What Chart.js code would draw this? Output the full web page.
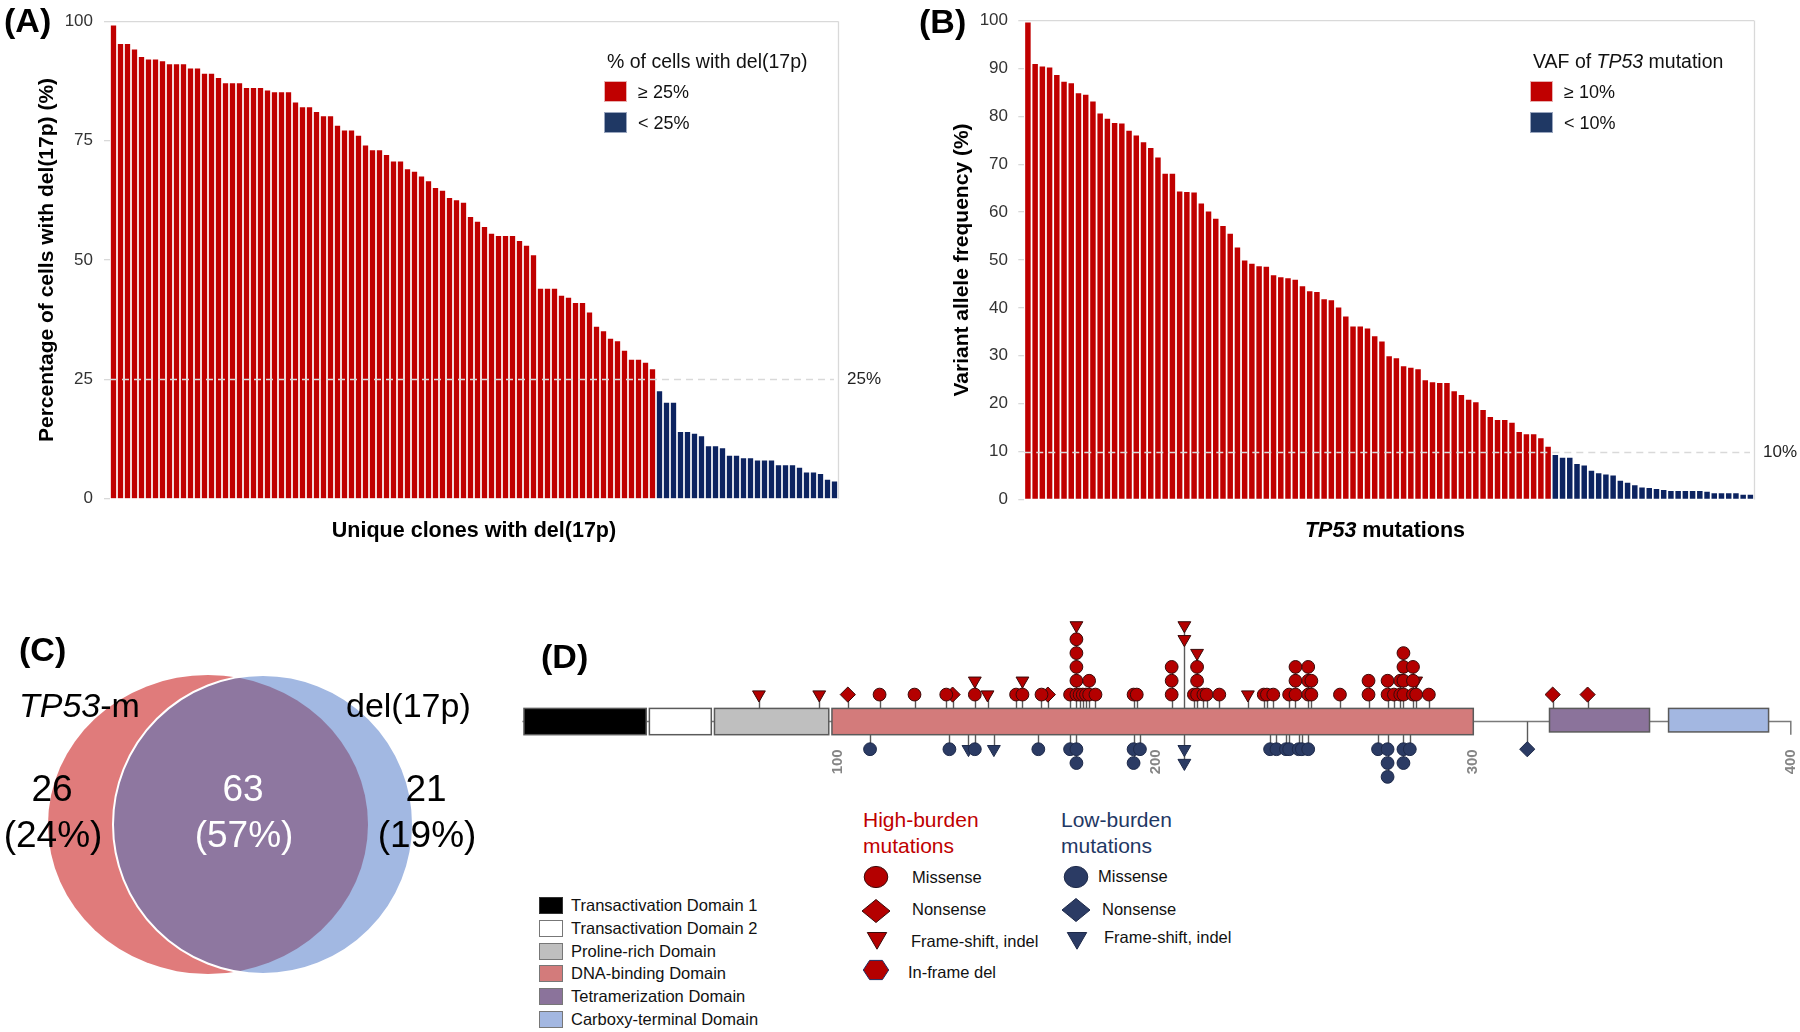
<!DOCTYPE html>
<html>
<head>
<meta charset="utf-8">
<script src="https://cdn.jsdelivr.net/npm/chart.js@4.4.1/dist/chart.umd.min.js"></script>
<style>
  body { margin: 0; background: #fff; }
  #page { position: relative; width: 1800px; height: 1032px; overflow: hidden;
          font-family: "Liberation Sans", Arial, sans-serif; color: #111; }
  #page canvas { position: absolute; }
  .t { position: absolute; line-height: 1; white-space: nowrap; transform: translateY(-50%); }
  .t.c { transform: translate(-50%, -50%); text-align: center; }
  .sw { position: absolute; box-sizing: border-box; }
</style>
</head>
<body>
<div id="page">
  <canvas id="chartA" width="900" height="520" style="left:0;top:0"></canvas>
  <canvas id="chartB" width="900" height="520" style="left:900px;top:0"></canvas>
  <canvas id="chartC" width="460" height="380" style="left:0;top:620px"></canvas>
  <canvas id="chartD" width="1314" height="200" style="left:500px;top:600px"></canvas>
</div>
<script>
// ---- data: panel A, % of cells with del(17p) per unique clone
const clonePct = [
  99.1, 95.2, 95.2, 94.1, 92.5, 92.0, 92.0, 91.6, 91.0, 91.0,
  91.0, 90.1, 90.1, 89.0, 89.0, 88.1, 87.0, 87.0, 87.0, 86.0,
  86.0, 86.0, 85.5, 85.1, 85.1, 85.1, 83.0, 82.0, 82.0, 81.0,
  80.1, 80.1, 78.1, 77.1, 77.1, 76.0, 74.0, 73.0, 73.0, 72.0,
  70.6, 70.6, 69.0, 68.5, 67.5, 66.5, 65.1, 64.5, 63.0, 62.5,
  62.0, 59.0, 58.0, 56.9, 55.5, 55.0, 55.0, 55.0, 54.0, 53.0,
  51.0, 44.0, 44.0, 44.0, 42.5, 42.1, 41.0, 41.0, 39.0, 36.0,
  35.1, 33.5, 33.0, 31.0, 29.1, 29.1, 28.5, 27.1, 22.5, 20.1,
  20.1, 14.0, 14.0, 13.6, 13.1, 11.0, 11.0, 10.6, 9.0, 9.0,
  8.5, 8.5, 8.0, 8.0, 8.0, 7.0, 7.0, 7.0, 6.5, 5.5,
  5.5, 5.2, 4.0, 3.6
];
const cloneThreshold = 25;

// ---- data: panel B, VAF of each TP53 mutation
const vafPct = [
  99.6, 90.9, 90.4, 90.2, 88.6, 87.2, 86.9, 84.8, 84.5, 83.1,
  80.6, 79.5, 78.6, 78.5, 77.0, 76.0, 74.6, 73.4, 71.4, 68.0,
  68.0, 64.3, 64.2, 64.1, 61.8, 60.1, 58.6, 57.1, 55.5, 52.6,
  49.9, 49.2, 48.7, 48.6, 46.8, 46.4, 46.2, 45.9, 44.5, 43.5,
  43.3, 41.8, 41.6, 40.1, 38.2, 36.1, 36.1, 35.7, 34.1, 33.0,
  29.9, 29.5, 27.8, 27.5, 27.2, 24.9, 24.5, 24.3, 24.3, 22.6,
  21.8, 20.8, 20.3, 18.7, 17.2, 16.6, 16.6, 16.0, 14.1, 13.6,
  13.6, 12.8, 11.0, 9.3, 8.7, 8.7, 7.4, 7.1, 6.0, 5.5,
  5.2, 5.0, 3.9, 3.5, 3.0, 2.5, 2.4, 2.2, 2.0, 1.8,
  1.8, 1.8, 1.8, 1.8, 1.6, 1.3, 1.3, 1.3, 1.3, 1.0,
  1.0
];
const vafThreshold = 10;

// ---- data: panel C, Venn counts (TP53-m only, both, del(17p) only)
const vennCounts = [26, 63, 21];
const vennPercents = [24, 57, 19];

// ---- data: panel D, TP53 protein domains (amino acid ranges)
const domainNames = ['Transactivation Domain 1', 'Transactivation Domain 2', 'Proline-rich Domain',
                     'DNA-binding Domain', 'Tetramerization Domain', 'Carboxy-terminal Domain'];
const domainStart = [1, 40.5, 61, 98, 324, 361.5];
const domainEnd = [39.5, 60, 97, 300, 355.5, 393];
const proteinLength = 400;
const axisTicks = [100, 200, 300, 400];

// mutation positions (one entry per mutation)
const highMissense = [113, 124, 134, 143, 156, 158, 164, 173, 175, 175, 175, 175, 175, 176, 177, 178,
  179, 179, 181, 193, 194, 205, 205, 205, 212, 213, 213, 213, 215, 216, 220, 234, 235, 237, 242,
  244, 244, 244, 248, 248, 248, 249, 249, 258, 267, 267, 273, 273, 275, 277, 277, 278, 278, 278, 278,
  281, 281, 281, 282, 286];
const highNonsense = [103, 136, 166, 325, 336];
const highFrameshift = [75, 94, 143, 147, 158, 175, 209, 209, 213, 229, 282];
const lowMissense = [110, 135, 143, 163, 173, 175, 175, 193, 193, 195, 236, 238, 241, 242, 245, 246,
  248, 270, 273, 273, 273, 278, 278, 280];
const lowNonsense = [317];
const lowFrameshift = [141, 149, 209, 209];
// stack that starts higher up in the plot (position -> first level)
const highStackFloor = { 209: 5 };

// ---- styles
const RED = '#C00000', NAVY = '#0C2360', GRID = '#D9D9D9';
const domainColors = ['#000000', '#FFFFFF', '#BFBFBF', '#D37B7B', '#8B739B', '#A3B7E1'];
const domainBottom = [-1.9, -1.9, -1.9, -1.9, -1.7, -1.7];
const HI_FILL = '#B40000', HI_LINE = '#3A0A0A', LO_FILL = '#2B3B64', LO_LINE = '#1E2A4A';

Chart.defaults.font.family = '"Liberation Sans", Arial, sans-serif';
Chart.defaults.color = '#333';

const thresholdLine = {
  id: 'thresholdLine',
  afterDatasetsDraw(chart, args, opts) {
    const { ctx, chartArea: a, scales: { y } } = chart;
    const py = Math.round(y.getPixelForValue(opts.value)) + 0.5;
    ctx.save();
    ctx.strokeStyle = GRID;
    ctx.lineWidth = 1.3;
    ctx.setLineDash([7, 5]);
    ctx.beginPath();
    ctx.moveTo(a.left, py);
    ctx.lineTo(a.right - 4, py);
    ctx.stroke();
    ctx.setLineDash([]);
    ctx.beginPath();
    ctx.moveTo(a.right + 0.5, a.top);
    ctx.lineTo(a.right + 0.5, a.bottom);
    ctx.stroke();
    ctx.fillStyle = '#222';
    ctx.font = '17px "Liberation Sans", Arial';
    ctx.textBaseline = 'middle';
    ctx.fillText(opts.value + '%', a.right + 9, py);
    ctx.restore();
  }
};

function barChart(id, values, threshold, step, o) {
  return new Chart(document.getElementById(id), {
    type: 'bar',
    data: {
      labels: values.map((_, i) => i + 1),
      datasets: [{
        data: values,
        backgroundColor: values.map(v => v >= threshold ? RED : NAVY),
        barPercentage: 0.76,
        categoryPercentage: 1
      }]
    },
    options: {
      responsive: false,
      animation: false,
      events: [],
      layout: { padding: { top: o.top, right: o.right, bottom: o.bottom, left: 0 } },
      plugins: {
        legend: { display: false },
        tooltip: { enabled: false },
        thresholdLine: { value: threshold }
      },
      scales: {
        x: { display: false },
        y: {
          min: 0, max: 100,
          ticks: { stepSize: step, padding: o.tickPad, color: '#333', font: { size: 17 } },
          grid: {
            color: c => c.tick && c.tick.value === 100 ? GRID : 'rgba(0,0,0,0)',
            tickColor: GRID, tickLength: 6, lineWidth: 1.3
          },
          border: { display: false },
          title: {
            display: true, text: o.title, color: '#000',
            font: { size: 21, weight: 'bold' }, padding: { top: o.titlePad }
          },
          afterFit: s => { s.width = o.axisWidth; }
        }
      }
    },
    plugins: [thresholdLine]
  });
}

barChart('chartA', clonePct, cloneThreshold, 25, {
  top: 12, right: 62, bottom: 13, axisWidth: 110, tickPad: 11, titlePad: 34.4,
  title: 'Percentage of cells with del(17p) (%)'
});
barChart('chartB', vafPct, vafThreshold, 10, {
  top: 12.7, right: 46, bottom: 14, axisWidth: 124.3, tickPad: 10.3, titlePad: 49.4,
  title: 'Variant allele frequency (%)'
});

// ---- panel C: Venn drawn on a chart's hidden scales
const vennLayout = [
  { cx: 208, cy: 204.5, rx: 160, ry: 149.5, color: '#E07B7B' },
  { cx: 263, cy: 204.5, rx: 150, ry: 149.5, color: '#A2B8E2' }
];
const vennPlugin = {
  id: 'venn',
  beforeDatasetsDraw(chart) {
    const { ctx, scales: { x, y } } = chart;
    const shape = s => {
      const px = x.getPixelForValue(s.cx), py = y.getPixelForValue(s.cy);
      ctx.beginPath();
      ctx.ellipse(px, py, x.getPixelForValue(s.cx + s.rx) - px,
        Math.abs(y.getPixelForValue(s.cy + s.ry) - py), 0, 0, Math.PI * 2);
    };
    const [a, b] = vennLayout;
    ctx.save();
    shape(a); ctx.fillStyle = a.color; ctx.fill();
    shape(b); ctx.fillStyle = b.color; ctx.fill();
    ctx.save();
    shape(a); ctx.clip();
    shape(b); ctx.fillStyle = '#8E77A0'; ctx.fill();
    ctx.restore();
    shape(b); ctx.strokeStyle = '#FFFFFF'; ctx.lineWidth = 2; ctx.stroke();
    ctx.restore();
  }
};
new Chart(document.getElementById('chartC'), {
  type: 'scatter',
  data: { datasets: [] },
  options: {
    responsive: false, animation: false, events: [],
    plugins: { legend: { display: false }, tooltip: { enabled: false } },
    scales: {
      x: { display: false, min: 0, max: 460 },
      y: { display: false, min: 0, max: 380, reverse: true }
    }
  },
  plugins: [vennPlugin]
});

// ---- panel D: lollipop plot
function stack(groups, above, floors) {
  const count = {};
  return groups.map(list => list.map(aa => {
    const lvl = count[aa] = (count[aa] || (floors[aa] || 1) - 1) + 1;
    return { x: aa, y: above ? lvl : -(1.95 + lvl) };
  }));
}
const highPts = stack([highMissense, highNonsense, highFrameshift], true, highStackFloor);
const lowPts = stack([lowMissense, lowNonsense, lowFrameshift], false, {});

function domainAt(aa) {
  return domainStart.findIndex((s, i) => aa >= s && aa <= domainEnd[i]);
}

const proteinTrack = {
  id: 'proteinTrack',
  beforeDatasetsDraw(chart) {
    const { ctx, scales: { x, y } } = chart;
    const mid = -0.95;
    ctx.save();
    // backbone
    ctx.strokeStyle = '#7A7A7A';
    ctx.lineWidth = 1.5;
    ctx.beginPath();
    ctx.moveTo(x.getPixelForValue(0.5), y.getPixelForValue(mid));
    ctx.lineTo(x.getPixelForValue(proteinLength), y.getPixelForValue(mid));
    ctx.lineTo(x.getPixelForValue(proteinLength), y.getPixelForValue(-1.9));
    ctx.stroke();
    // stems
    const tops = {}, bottoms = {};
    highPts.flat().forEach(p => { tops[p.x] = Math.max(tops[p.x] || 0, p.y); });
    lowPts.flat().forEach(p => { bottoms[p.x] = Math.min(bottoms[p.x] || 0, p.y); });
    ctx.strokeStyle = '#5A5A5A';
    ctx.lineWidth = 1.4;
    Object.keys(tops).forEach(k => {
      const px = Math.round(x.getPixelForValue(+k)) + 0.5;
      ctx.beginPath();
      ctx.moveTo(px, y.getPixelForValue(0));
      ctx.lineTo(px, y.getPixelForValue(tops[k]));
      ctx.stroke();
    });
    Object.keys(bottoms).forEach(k => {
      const d = domainAt(+k);
      const px = Math.round(x.getPixelForValue(+k)) + 0.5;
      ctx.beginPath();
      ctx.moveTo(px, y.getPixelForValue(d < 0 ? mid : domainBottom[d]));
      ctx.lineTo(px, y.getPixelForValue(bottoms[k]));
      ctx.stroke();
    });
    // domains
    ctx.strokeStyle = '#5A5A5A';
    ctx.lineWidth = 1.5;
    domainStart.forEach((s, i) => {
      const l = x.getPixelForValue(s), r = x.getPixelForValue(domainEnd[i]);
      const t = y.getPixelForValue(0), b = y.getPixelForValue(domainBottom[i]);
      ctx.fillStyle = domainColors[i];
      ctx.fillRect(l, t, r - l, b - t);
      ctx.strokeRect(l, t, r - l, b - t);
    });
    ctx.restore();
  }
};

const markerStyles = [
  { pointStyle: 'circle', pointRadius: 6.4, rotation: 0 },
  { pointStyle: 'rectRot', pointRadius: 7.6, rotation: 0 },
  { pointStyle: 'triangle', pointRadius: 7.4, rotation: 180 }
];
const datasets = [];
[[lowPts, LO_FILL, LO_LINE], [highPts, HI_FILL, HI_LINE]].forEach(([groups, fill, line]) => {
  groups.forEach((pts, i) => datasets.push(Object.assign({
    data: pts, backgroundColor: fill, borderColor: line, borderWidth: 1
  }, markerStyles[i])));
});

new Chart(document.getElementById('chartD'), {
  type: 'scatter',
  data: { datasets },
  options: {
    responsive: false, animation: false, events: [],
    layout: { padding: { left: 20.8, right: 23.2, top: 11.6, bottom: 7.7 } },
    plugins: { legend: { display: false }, tooltip: { enabled: false } },
    scales: {
      x: {
        type: 'linear', min: 0, max: proteinLength,
        position: { y: -2.16 },
        grid: { display: false }, border: { display: false },
        afterBuildTicks: s => { s.ticks = axisTicks.map(v => ({ value: v })); },
        ticks: {
          minRotation: 90, maxRotation: 90, padding: 3, autoSkip: false,
          color: '#858585', font: { size: 15, weight: 'bold' }
        }
      },
      y: { display: false, min: -6, max: 7 }
    }
  },
  plugins: [proteinTrack]
});

// ---- text, legends
const page = document.getElementById('page');
function addText(html, left, cy, css, center) {
  const d = document.createElement('div');
  d.className = 't' + (center ? ' c' : '');
  d.style.cssText = 'left:' + left + 'px;top:' + cy + 'px;' + (css || '');
  d.innerHTML = html;
  page.appendChild(d);
  return d;
}
function addSwatch(left, top, w, h, color, border) {
  const d = document.createElement('div');
  d.className = 'sw';
  d.style.cssText = `left:${left}px;top:${top}px;width:${w}px;height:${h}px;background:${color};border:1px solid ${border}`;
  page.appendChild(d);
}
function addSymbol(shape, fill, stroke, cx, cy) {
  const ns = 'http://www.w3.org/2000/svg';
  const svg = document.createElementNS(ns, 'svg');
  svg.setAttribute('width', 32); svg.setAttribute('height', 32);
  svg.style.cssText = `position:absolute;left:${cx - 16}px;top:${cy - 16}px`;
  let el;
  if (shape === 'circle') {
    el = document.createElementNS(ns, 'ellipse');
    el.setAttribute('cx', 16); el.setAttribute('cy', 16);
    el.setAttribute('rx', 11.8); el.setAttribute('ry', 10.6);
  } else {
    const pts = {
      diamond: [[-14, 0], [0, -11.5], [14, 0], [0, 11.5]],
      triangle: [[-9.7, -7.5], [9.7, -7.5], [0, 9.2]],
      hexagon: [[-12.7, 0], [-6.4, -9.6], [6.4, -9.6], [12.7, 0], [6.4, 9.6], [-6.4, 9.6]]
    }[shape];
    el = document.createElementNS(ns, 'polygon');
    el.setAttribute('points', pts.map(p => (16 + p[0]) + ',' + (16 + p[1])).join(' '));
  }
  el.setAttribute('fill', fill);
  el.setAttribute('stroke', stroke);
  el.setAttribute('stroke-width', 1);
  svg.appendChild(el);
  page.appendChild(svg);
}

const PL = 'font-size:34px;font-weight:bold;color:#000';
addText('(A)', 4, 20, PL);
addText('(B)', 919, 21, PL);
addText('(C)', 19, 649, PL);
addText('(D)', 541, 656, PL);

addText('Unique clones with del(17p)', 474, 531, 'font-size:21.5px;font-weight:bold;color:#000', true);
addText('<i>TP53</i> mutations', 1385, 531, 'font-size:21.5px;font-weight:bold;color:#000', true);

// bar legends
[[604, '% of cells with del(17p)', cloneThreshold], [1530, 'VAF of <i>TP53</i> mutation', vafThreshold]]
  .forEach(([x0, title, th]) => {
    addText(title, x0 + 3, 62, 'font-size:19.5px');
    addSwatch(x0, 81, 23, 21, RED, '#E8B0B0');
    addSwatch(x0, 112, 23, 21, '#1F3864', '#9AA6BE');
    addText('\u2265 ' + th + '%', x0 + 34, 92, 'font-size:18px');
    addText('&lt; ' + th + '%', x0 + 34, 123, 'font-size:18px');
  });

// venn labels
const V = 'font-size:34px;color:#000';
addText('<i>TP53</i>-m', 19, 705, V);
addText('del(17p)', 346, 705, V);
const vennCx = [52, 243, 426];
vennCounts.forEach((n, i) => {
  const col = i === 1 ? '#FFFFFF' : '#000';
  addText(String(n), vennCx[i], 788, `font-size:37px;color:${col}`, true);
  addText('(' + vennPercents[i] + '%)', vennCx[i] + 1, 834, `font-size:37px;color:${col}`, true);
});

// domain legend
const domainBorders = ['#333', '#777', '#777', '#777', '#777', '#777'];
domainNames.forEach((name, i) => {
  const cy = 904.7 + i * 22.9;
  addSwatch(539, cy - 8, 24, 17, domainColors[i], domainBorders[i]);
  addText(name, 571, cy, 'font-size:16.5px');
});

// mutation legend
addText('High-burden', 863, 819, 'font-size:21px;color:#C00000');
addText('mutations', 863, 845, 'font-size:21px;color:#C00000');
addText('Low-burden', 1061, 819, 'font-size:21px;color:#1F3864');
addText('mutations', 1061, 845, 'font-size:21px;color:#1F3864');
addSymbol('circle', HI_FILL, HI_LINE, 876, 877);
addSymbol('diamond', HI_FILL, HI_LINE, 876, 911);
addSymbol('triangle', HI_FILL, HI_LINE, 877, 940);
addSymbol('hexagon', HI_FILL, '#1F2A60', 876, 970);
addText('Missense', 912, 877, 'font-size:16.5px');
addText('Nonsense', 912, 909, 'font-size:16.5px');
addText('Frame-shift, indel', 911, 941, 'font-size:16.5px');
addText('In-frame del', 908, 972, 'font-size:16.5px');
addSymbol('circle', LO_FILL, LO_LINE, 1076, 877);
addSymbol('diamond', LO_FILL, LO_LINE, 1076, 910);
addSymbol('triangle', LO_FILL, LO_LINE, 1077, 940);
addText('Missense', 1098, 876, 'font-size:16.5px');
addText('Nonsense', 1102, 909, 'font-size:16.5px');
addText('Frame-shift, indel', 1104, 937, 'font-size:16.5px');
</script>
</body>
</html>
